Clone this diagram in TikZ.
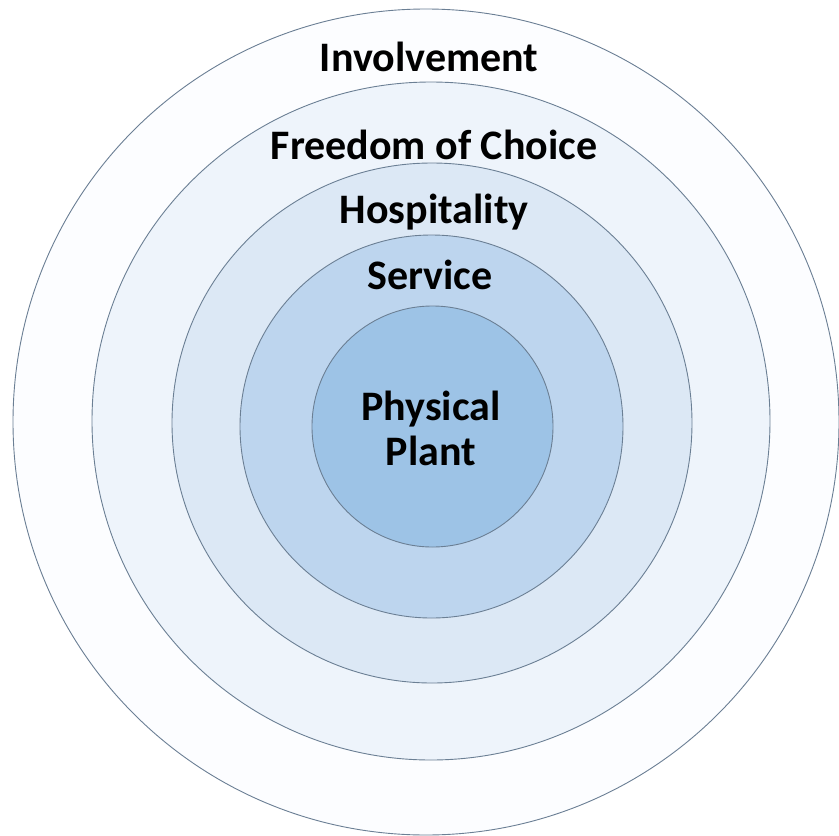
\documentclass[tikz,border=0pt]{standalone}
\usepackage{fontspec}
\setmainfont{Carlito}
\definecolor{ringA}{HTML}{FCFDFF}
\definecolor{ringB}{HTML}{EEF4FB}
\definecolor{ringC}{HTML}{DCE8F5}
\definecolor{ringD}{HTML}{BDD5EE}
\definecolor{ringE}{HTML}{9DC3E6}
\definecolor{ringline}{HTML}{6B7F94}
\tikzset{
  ring/.style={draw=ringline, line width=0.9pt},
  lab/.style={font=\fontsize{42}{45}\selectfont\bfseries, text=black, inner sep=0pt, align=center}
}
\begin{document}
\begin{tikzpicture}[x=1pt,y=-1pt]
\useasboundingbox (0,0) rectangle (839,836);
\fill[white] (0,0) rectangle (839,836);
\path[ring, fill=ringA] (426,422) circle[radius=413];
\path[ring, fill=ringB] (431,421) circle[radius=339];
\path[ring, fill=ringC] (432,423) circle[radius=260];
\path[ring, fill=ringD] (431.5,426.5) circle[radius=191.5];
\path[ring, fill=ringE] (432.5,426.5) circle[radius=120.5];
\node[lab] (inv) at (429,57) {Involvement};
\node[lab] (foc) at (434,145) {Freedom of Choice};
\node[lab] (hos) at (434,212) {Hospitality};
\node[lab] (ser) at (430,275) {Service};
\node[lab] (phy) at (431,428) {Physical\\Plant};
\end{tikzpicture}
\end{document}
